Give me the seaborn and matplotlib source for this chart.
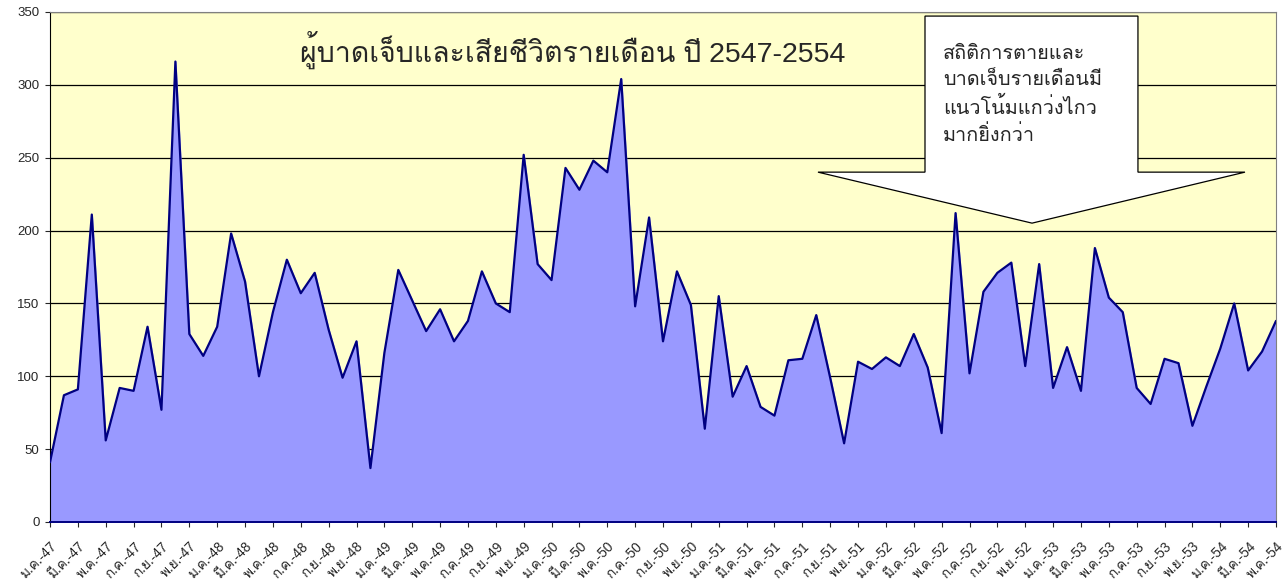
import matplotlib
matplotlib.use('Agg')
import matplotlib.pyplot as plt
import seaborn as sns
import numpy as np
from matplotlib import font_manager
from matplotlib.ft2font import FT2Font
from matplotlib.patches import Polygon

### Monthly injured and deaths, Jan 2547 - May 2554

months = ['ม.ค.', 'ก.พ.', 'มี.ค.', 'เม.ย.', 'พ.ค.', 'มิ.ย.',
          'ก.ค.', 'ส.ค.', 'ก.ย.', 'ต.ค.', 'พ.ย.', 'ธ.ค.']
years = ['47', '48', '49', '50', '51', '52', '53', '54']

values = [41, 87, 91, 211, 56, 92, 90, 134, 77, 316,
          129, 114, 134, 198, 165, 100, 144, 180, 157, 171,
          132, 99, 124, 37, 116, 173, 152, 131, 146, 124,
          138, 172, 150, 144, 252, 177, 166, 243, 228, 248,
          240, 304, 148, 209, 124, 172, 149, 64, 155, 86,
          107, 79, 73, 111, 112, 142, 99, 54, 110, 105,
          113, 107, 129, 106, 61, 212, 102, 158, 171, 178,
          107, 177, 92, 120, 90, 188, 154, 144, 92, 81,
          112, 109, 66, 93, 119, 150, 104, 117, 138]

title = 'ผู้บาดเจ็บและเสียชีวิตรายเดือน ปี 2547-2554'
note = 'สถิติการตายและ\nบาดเจ็บรายเดือนมี\nแนวโน้มแกว่งไกว\nมากยิ่งกว่า'


def thai_family():
    # first installed family that has Thai glyphs
    for f in font_manager.fontManager.ttflist:
        try:
            if ord('ก') in FT2Font(f.fname).get_charmap():
                return f.name
        except Exception:
            pass
    return 'DejaVu Sans'


labels = [f'{m}-{y}' for y in years for m in months][:len(values)]
x = np.arange(len(values))

sns.set_style('white')
plt.rcParams['font.family'] = ['Liberation Sans', thai_family(), 'DejaVu Sans']

fig = plt.figure(figsize=(12.88, 5.85), dpi=100)
ax = fig.add_axes([50 / 1288, 1 - 522 / 585, 1226 / 1288, 510 / 585])
ax.set_facecolor('#FFFFCC')

ax.fill_between(x, values, 0, color='#9999FF', zorder=2)
sns.lineplot(x=x, y=values, ax=ax, color='#000080', linewidth=1.6, zorder=3)

ax.set_xlim(0, len(values) - 1)
ax.set_ylim(0, 350)
ax.set_yticks(range(0, 351, 50))
ax.yaxis.grid(True, color='black', linewidth=0.9, zorder=1)
ax.set_axisbelow(True)
ax.set_xticks(x[::2])
ax.set_xticklabels(labels[::2], rotation=45, ha='right', rotation_mode='anchor',
                   fontsize=9.8)
ax.tick_params(axis='y', labelsize=9.5, direction='out', length=3.5, width=0.8,
               left=True, pad=4)
ax.tick_params(axis='x', direction='out', length=3.5, width=0.8, bottom=True, pad=9)

for side in ['top', 'right']:
    ax.spines[side].set_color('#808080')
ax.spines['left'].set_color('black')
ax.spines['bottom'].set_color('#000080')
ax.spines['bottom'].set_linewidth(1.4)

ax.text(0.4266, 0.925, title, transform=ax.transAxes, ha='center', va='center',
        fontsize=20.5, zorder=5)

# down-arrow callout
shape = [(0.7137, 0.992), (0.8874, 0.992), (0.8874, 0.686), (0.9747, 0.686),
         (0.801, 0.586), (0.6264, 0.686), (0.7137, 0.686)]
ax.add_patch(Polygon(shape, closed=True, transform=ax.transAxes, facecolor='white',
                     edgecolor='black', linewidth=0.9, zorder=4))
ax.text(0.7282, 0.938, note, transform=ax.transAxes, ha='left', va='top',
        fontsize=14.3, linespacing=1.47, zorder=5)

ax.set_xlabel('')
ax.set_ylabel('')
plt.savefig('out.png', dpi=100)
plt.close()
